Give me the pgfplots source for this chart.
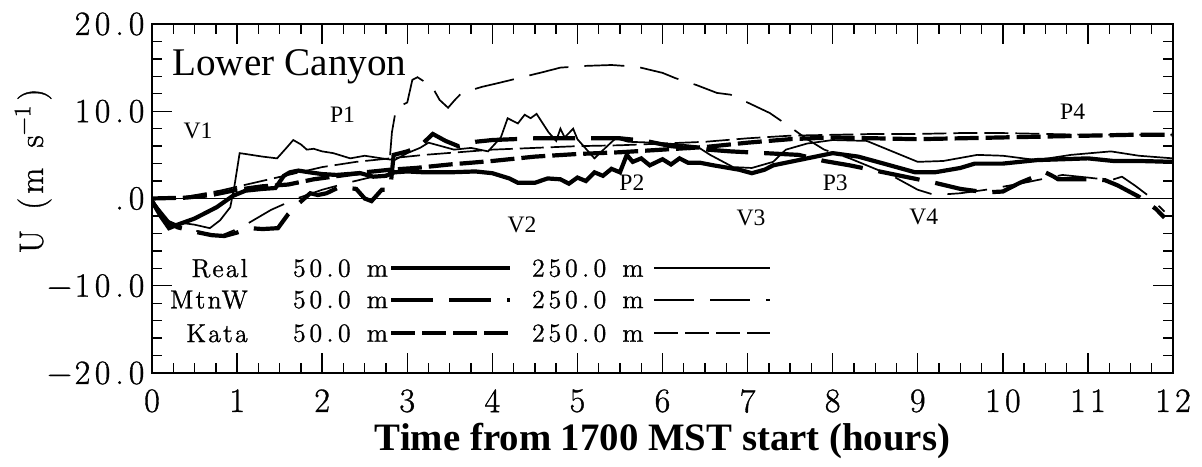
\documentclass[border=0pt]{standalone}
\usepackage{pgfplots}
\pgfplotsset{compat=1.18}
\usepackage{fontspec}
\newfontfamily\tnr{Liberation Serif}
\newfontfamily\lmh{Latin Modern Roman}[FakeBold=1]
\newfontfamily\lmhs{Latin Modern Roman}[FakeBold=1, LetterSpace=8]
\newcommand{\tc}[1]{\makebox[10pt][c]{#1}}
\newcommand{\tm}{\makebox[13pt][c]{−}}
\newcommand{\tp}{\makebox[7pt][c]{.}}
\newcommand{\lc}[1]{\makebox[8.25pt][c]{#1}}
\newcommand{\lp}{\makebox[6pt][c]{.}}
\newcommand{\lfifty}{\lc{5}\lc{0}\lp\lc{0}\lc{ }\lc{m}}
\newcommand{\ltwofifty}{\lc{2}\lc{5}\lc{0}\lp\lc{0}\lc{ }\lc{m}}
\tikzset{
  realA/.style={line width=2.1pt, solid},
  realB/.style={line width=0.85pt, solid},
  mtnA/.style={line width=2.1pt, dash pattern=on 21pt off 8pt},
  mtnB/.style={line width=0.85pt, dash pattern=on 20pt off 8pt},
  kataA/.style={line width=2.1pt, dash pattern=on 12pt off 3.5pt},
  kataB/.style={line width=0.85pt, dash pattern=on 12pt off 3.5pt},
}
\begin{document}
\begin{tikzpicture}
\begin{axis}[
  scale only axis, width=510.5pt, height=174.5pt,
  xmin=0, xmax=12, ymin=-20, ymax=20,
  xtick={0,1,...,12},
  xticklabels={\tc{0},\tc{1},\tc{2},\tc{3},\tc{4},\tc{5},\tc{6},\tc{7},\tc{8},\tc{9},\tc{1}\tc{0},\tc{1}\tc{1},\tc{1}\tc{2}},
  ytick={-20,-10,0,10,20},
  yticklabels={\tm\tc{2}\tc{0}\tp\tc{0},\tm\tc{1}\tc{0}\tp\tc{0},\tp\tc{0},\tc{1}\tc{0}\tp\tc{0},\tc{2}\tc{0}\tp\tc{0}},
  minor x tick num=3, minor y tick num=4,
  tick align=inside, major tick length=10pt, minor tick length=5pt,
  every tick/.style={black, line width=0.7pt},
  axis line style={line width=0.9pt},
  tick label style={font=\lmh\fontsize{17}{20}\selectfont},
  xticklabel style={inner sep=8pt},
  yticklabel style={inner sep=2.5pt},
  xlabel={Time from 1700 MST start (hours)},
  xlabel style={font=\tnr\bfseries\fontsize{19.4}{22}\selectfont, at={(axis description cs:0.5,0)}, anchor=base, yshift=-38.5pt},
  ylabel={U\hspace{10pt}(\hspace{2pt}m\hspace{10pt}s\textsuperscript{−1}\hspace{2pt})},
  ylabel style={font=\lmh\fontsize{17}{20}\selectfont, at={(axis description cs:-0.1068,0.579)}, anchor=base},
  no markers,
]
\coordinate (ll) at (rel axis cs:0,0);
\coordinate (ur) at (rel axis cs:1,1);
% zero line
\addplot[line width=0.75pt] coordinates {(0,0) (12,0)};
% Real 50 m
\addplot[realA] coordinates {(0,-0.3) (0.1,-2.0) (0.2,-3.4) (0.3,-3.0) (0.5,-2.3) (0.76,-1.0) (0.95,0.3) (1.1,0.9) (1.3,1.1) (1.45,1.2) (1.55,2.6) (1.62,3.0) (1.72,3.2) (1.85,3.0) (2.0,2.8) (2.17,2.7) (2.3,2.8) (2.45,2.9) (2.6,2.5) (2.75,2.6) (2.85,3.0) (3.0,3.1) (3.2,3.0) (3.5,3.0) (3.8,3.1) (4.0,2.9) (4.2,2.3) (4.3,1.8) (4.5,1.8) (4.65,2.3) (4.8,2.2) (4.9,1.7) (5.0,2.4) (5.1,2.0) (5.2,3.0) (5.3,2.6) (5.4,3.4) (5.5,3.0) (5.58,5.0) (5.65,4.2) (5.75,4.6) (5.85,3.8) (6.0,4.5) (6.1,3.9) (6.2,4.6) (6.3,4.1) (6.44,4.1) (6.6,3.8) (6.9,3.3) (7.05,2.9) (7.2,3.3) (7.3,3.8) (7.5,4.2) (7.7,4.6) (8.0,5.2) (8.3,4.8) (8.6,4.0) (8.97,3.0) (9.2,3.0) (9.5,3.5) (9.67,4.0) (10.0,4.0) (10.4,4.4) (11.0,4.6) (11.3,4.3) (11.6,4.3) (12.0,4.2)};
% Real 250 m
\addplot[realB] coordinates {(0,-0.3) (0.1,-1.8) (0.2,-3.2) (0.35,-2.8) (0.5,-3.0) (0.68,-3.4) (0.8,-2.5) (0.92,-1.0) (0.97,1.5) (1.03,5.2) (1.1,5.1) (1.3,4.8) (1.47,4.6) (1.58,5.8) (1.66,6.7) (1.75,6.2) (1.82,5.6) (1.9,5.7) (2.0,5.4) (2.13,5.2) (2.33,4.6) (2.5,4.9) (2.7,4.6) (2.85,4.4) (3.0,5.2) (3.15,5.8) (3.25,6.4) (3.4,6.0) (3.55,5.6) (3.75,5.8) (3.95,5.4) (4.1,7.0) (4.18,9.2) (4.3,8.6) (4.38,9.6) (4.45,9.2) (4.52,9.7) (4.66,7.6) (4.75,6.6) (4.8,8.0) (4.85,7.0) (4.95,8.0) (5.0,6.8) (5.2,4.6) (5.35,6.0) (5.45,6.9) (5.6,6.5) (5.9,6.4) (6.2,6.2) (6.4,6.0) (6.56,5.0) (6.83,3.6) (7.05,3.5) (7.3,4.2) (7.45,5.6) (7.7,6.3) (8.0,6.7) (8.4,6.6) (8.7,5.4) (9.0,4.2) (9.3,4.3) (9.7,5.0) (10.0,4.9) (10.4,4.4) (10.8,5.0) (11.27,5.4) (11.6,4.9) (12.0,4.6)};
% MtnW 50 m
\addplot[mtnA] coordinates {(0,-0.3) (0.15,-2.5) (0.3,-3.3) (0.5,-3.8) (0.7,-4.2) (0.85,-4.3) (1.0,-3.9) (1.15,-3.4) (1.3,-3.5) (1.48,-3.4) (1.6,-1.8) (1.72,-0.6) (1.86,0.6) (1.95,0.4) (2.05,0.6) (2.2,1.3) (2.4,1.1) (2.5,0.0) (2.58,-0.3) (2.7,1.0) (2.8,1.0) (2.84,5.0) (3.0,5.4) (3.15,6.0) (3.3,7.4) (3.45,6.6) (3.6,6.0) (3.8,6.5) (4.0,6.7) (4.5,6.9) (5.0,6.9) (5.5,6.9) (5.8,6.6) (6.1,6.0) (6.4,5.7) (6.8,5.4) (7.2,5.2) (7.6,5.0) (7.9,4.3) (8.2,3.8) (8.5,3.2) (8.9,2.4) (9.2,1.8) (9.5,1.1) (9.8,0.7) (10.0,0.8) (10.2,1.8) (10.4,2.6) (10.5,3.0) (10.6,2.5) (10.65,2.2) (11.0,2.2) (11.2,2.1) (11.35,1.5) (11.6,0.2) (11.8,-1.2) (11.9,-2.2)};
% MtnW 250 m
\addplot[mtnB] coordinates {(0,-0.2) (0.2,-2.6) (0.4,-3.4) (0.6,-3.9) (0.8,-4.3) (1.05,-3.3) (1.4,-1.3) (1.7,0.0) (2.0,1.0) (2.3,1.8) (2.6,2.5) (2.78,2.8) (2.82,7.6) (2.87,10.4) (3.0,11.0) (3.06,13.6) (3.12,13.9) (3.2,13.4) (3.27,13.2) (3.38,11.3) (3.48,10.4) (3.56,11.3) (3.64,12.1) (3.88,12.8) (4.1,13.3) (4.35,13.9) (4.6,14.5) (4.8,15.0) (5.1,15.2) (5.4,15.3) (5.7,15.1) (6.0,14.4) (6.15,13.8) (6.4,13.0) (6.64,12.1) (6.8,11.9) (7.0,11.0) (7.26,9.8) (7.44,8.6) (7.7,6.8) (7.9,5.6) (8.2,4.6) (8.5,3.4) (8.7,2.6) (9.0,1.0) (9.2,0.4) (9.5,0.6) (9.8,1.0) (10.2,1.7) (10.5,2.3) (10.7,2.7) (11.0,2.4) (11.27,2.1) (11.4,2.5) (11.55,1.5) (11.7,0.4) (11.9,-1.5)};
% Kata 50 m
\addplot[kataA] coordinates {(0,0) (0.4,0.1) (0.7,0.4) (1.0,1.0) (1.3,1.4) (1.6,1.6) (1.9,2.2) (2.2,2.6) (2.5,3.0) (2.8,3.3) (3.1,3.5) (3.5,3.9) (4.0,4.3) (4.5,4.8) (5.0,5.1) (5.5,5.3) (6.0,5.6) (6.5,5.9) (7.0,6.4) (7.5,6.8) (8.0,7.0) (8.5,6.9) (9.0,6.8) (9.5,6.9) (10.0,7.0) (10.5,7.1) (11.0,7.2) (11.5,7.3) (12.0,7.3)};
% Kata 250 m
\addplot[kataB] coordinates {(0,0) (0.4,0.2) (0.8,0.9) (1.2,1.8) (1.6,2.7) (2.0,3.6) (2.4,4.2) (2.8,4.6) (3.2,5.0) (3.6,5.3) (4.0,5.6) (4.5,5.8) (5.0,6.0) (5.5,6.1) (6.0,6.3) (6.5,6.5) (7.0,6.9) (7.5,7.2) (8.0,7.3) (8.5,7.4) (9.0,7.4) (9.5,7.5) (10.0,7.5) (10.5,7.4) (11.0,7.3) (11.5,7.3) (12.0,7.3)};
% annotations
\node[anchor=base west, font=\tnr\fontsize{19.6}{22}\selectfont, inner sep=0pt] at (axis cs:0.235,14.15) {Lower Canyon};
\node[font=\tnr\fontsize{11.8}{13}\selectfont, inner sep=0pt] at (axis cs:0.54,7.8) {V1};
\node[font=\tnr\fontsize{11.8}{13}\selectfont, inner sep=0pt] at (axis cs:2.24,9.6) {P1};
\node[font=\tnr\fontsize{11.8}{13}\selectfont, inner sep=0pt] at (axis cs:4.35,-3.0) {V2};
\node[font=\tnr\fontsize{11.8}{13}\selectfont, inner sep=0pt] at (axis cs:5.64,1.8) {P2};
\node[font=\tnr\fontsize{11.8}{13}\selectfont, inner sep=0pt] at (axis cs:7.04,-2.2) {V3};
\node[font=\tnr\fontsize{11.8}{13}\selectfont, inner sep=0pt] at (axis cs:8.03,1.8) {P3};
\node[font=\tnr\fontsize{11.8}{13}\selectfont, inner sep=0pt] at (axis cs:9.07,-2.1) {V4};
\node[font=\tnr\fontsize{11.8}{13}\selectfont, inner sep=0pt] at (axis cs:10.82,9.9) {P4};
% legend
\node[anchor=east, font=\lmhs\fontsize{13}{15}\selectfont, inner sep=0pt] at (axis cs:1.13,-8.0) {Real};
\node[anchor=east, font=\lmhs\fontsize{13}{15}\selectfont, inner sep=0pt] at (axis cs:1.13,-11.6) {MtnW};
\node[anchor=east, font=\lmhs\fontsize{13}{15}\selectfont, inner sep=0pt] at (axis cs:1.13,-15.45) {Kata};
\node[anchor=west, font=\lmh\fontsize{13}{15}\selectfont, inner sep=0pt] at (axis cs:1.63,-8.0) {\lfifty};
\node[anchor=west, font=\lmh\fontsize{13}{15}\selectfont, inner sep=0pt] at (axis cs:1.63,-11.6) {\lfifty};
\node[anchor=west, font=\lmh\fontsize{13}{15}\selectfont, inner sep=0pt] at (axis cs:1.63,-15.45) {\lfifty};
\node[anchor=west, font=\lmh\fontsize{13}{15}\selectfont, inner sep=0pt] at (axis cs:4.44,-8.0) {\ltwofifty};
\node[anchor=west, font=\lmh\fontsize{13}{15}\selectfont, inner sep=0pt] at (axis cs:4.44,-11.6) {\ltwofifty};
\node[anchor=west, font=\lmh\fontsize{13}{15}\selectfont, inner sep=0pt] at (axis cs:4.44,-15.45) {\ltwofifty};
\draw[realA] (axis cs:2.81,-8.0) -- (axis cs:4.21,-8.0);
\draw[realB] (axis cs:5.9,-8.0) -- (axis cs:7.26,-8.0);
\draw[mtnA] (axis cs:2.81,-11.6) -- (axis cs:4.21,-11.6);
\draw[mtnB] (axis cs:5.9,-11.6) -- (axis cs:7.26,-11.6);
\draw[kataA] (axis cs:2.81,-15.45) -- (axis cs:4.21,-15.45);
\draw[kataB] (axis cs:5.9,-15.45) -- (axis cs:7.26,-15.45);
\end{axis}
\pgfresetboundingbox
\path ([shift={(-76pt,-46.5pt)}]ll) rectangle ([shift={(14.5pt,12pt)}]ur);
\end{tikzpicture}
\end{document}
